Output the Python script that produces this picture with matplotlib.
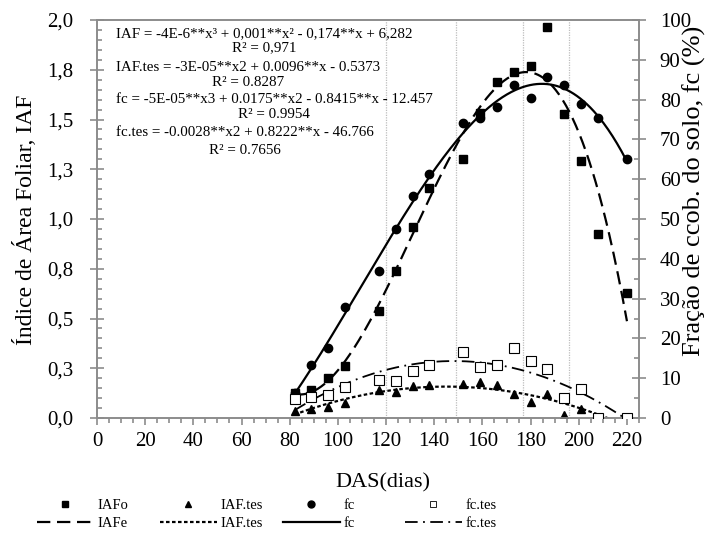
import numpy as np
import matplotlib
matplotlib.use("Agg")
import matplotlib.pyplot as plt
from matplotlib.lines import Line2D
from matplotlib.ticker import MultipleLocator, FixedLocator

plt.rcParams['font.family'] = ['Liberation Serif', 'DejaVu Serif']

# observation days (DAS)
das = [82, 89, 96, 103, 117, 124, 131, 138, 152, 159, 166, 173, 180, 187, 194, 201, 208, 220]

# leaf area index, observed (left axis)
iaf_obs = [0.125, 0.14, 0.20, 0.26, 0.54, 0.74, 0.96, 1.155, 1.30, 1.535, 1.69, 1.74,
           1.77, 1.965, 1.53, 1.29, 0.925, 0.63]
# leaf area index, weeds (left axis)
iaf_tes = [0.035, 0.044, 0.053, 0.074, 0.141, 0.132, 0.161, 0.166, 0.169, 0.179, 0.166,
           0.119, 0.080, 0.121, 0.015, 0.044, 0.0, 0.0]
# soil cover fraction (right axis, %)
fc = [6.3, 13.3, 17.5, 28.0, 37.0, 47.6, 55.7, 61.3, 74.0, 75.3, 78.2, 83.7, 80.5,
      85.7, 83.6, 79.0, 75.3, 65.1]
# soil cover fraction, weeds (right axis, %)
fc_tes = [4.7, 5.4, 5.8, 7.9, 9.6, 9.3, 11.9, 13.2, 16.6, 12.9, 13.3, 17.7, 14.4,
          12.3, 5.0, 7.2, 0.0, 0.0]

# phase boundaries (dotted vertical lines)
phase_days = [120, 149, 177, 196]

left_ticks = [0, 0.25, 0.5, 0.75, 1.0, 1.25, 1.5, 1.75, 2.0]
left_labels = ["0,0", "0,3", "0,5", "0,8", "1,0", "1,3", "1,5", "1,8", "2,0"]

equations = [
    ("IAF = -4E-6**x³ + 0,001**x² - 0,174**x + 6,282", "R² = 0,971"),
    ("IAF.tes = -3E-05**x2 + 0.0096**x - 0.5373", "R² = 0.8287"),
    ("fc = -5E-05**x3 + 0.0175**x2 - 0.8415**x - 12.457", "R² = 0.9954"),
    ("fc.tes = -0.0028**x2 + 0.8222**x - 46.766", "R² = 0.7656"),
]

# ---------------------------------------------------------------------------
fig = plt.figure(figsize=(7.1, 5.37), dpi=100)
ax = fig.add_axes([97 / 710, 1 - 418 / 537, 542 / 710, 398 / 537])
ax2 = ax.twinx()

gray = "#8c8c8c"

# trend lines (least squares fits on the observed points)
x = np.array(das, dtype=float)
xs = np.linspace(x.min(), x.max(), 300)


def trend(y, deg):
    p = np.polynomial.Polynomial.fit(x, np.array(y, dtype=float), deg)
    return p(xs)


for d in phase_days:
    ax.axvline(d, color="#bdbdbd", lw=0.9, ls=(0, (1, 1)), zorder=0)

ax.plot(xs, trend(iaf_obs, 3), color="k", lw=1.6, dashes=(6, 3), zorder=2)
ax.plot(xs, trend(iaf_tes, 2), color="k", lw=1.6, dashes=(1.6, 1.1), zorder=2)
ax2.plot(xs, trend(fc, 3), color="k", lw=1.6, zorder=2)
ax2.plot(xs, trend(fc_tes, 2), color="k", lw=1.3, dashes=(7, 3, 1, 3), zorder=2)

ax.plot(das, iaf_obs, "s", color="k", ms=6, zorder=3)
ax.plot(das, iaf_tes, "^", color="k", ms=6, zorder=3)
ax2.plot(das, fc, "o", color="k", ms=6, zorder=3)
ax2.plot(das, fc_tes, "s", mfc="white", mec="k", mew=0.8, ms=6.5, zorder=3)

# axes ----------------------------------------------------------------------
ax.set_xlim(0, 225)
ax.set_ylim(0, 2.0)
ax2.set_ylim(0, 100)

ax.xaxis.set_minor_locator(MultipleLocator(5))
ax.set_xticks(range(0, 221, 20))
ax.yaxis.set_major_locator(FixedLocator(left_ticks))
ax.set_yticklabels(left_labels)
ax.yaxis.set_minor_locator(MultipleLocator(0.05))
ax2.yaxis.set_major_locator(MultipleLocator(10))
ax2.yaxis.set_minor_locator(MultipleLocator(5))

for a in (ax, ax2):
    for s in a.spines.values():
        s.set_color(gray)
        s.set_linewidth(1.2)

ax.tick_params(axis="x", which="major", direction="out", length=5, width=1.2,
               color=gray, labelsize=15, pad=5)
ax.tick_params(axis="x", which="minor", direction="out", length=3.5, width=1.2, color=gray)
ax.tick_params(axis="y", which="major", direction="inout", length=10, width=1.2,
               color=gray, labelsize=15, pad=12)
ax.tick_params(axis="y", which="minor", direction="in", length=3.5, width=1.2, color=gray)
ax2.tick_params(axis="y", which="major", direction="inout", length=10, width=1.2,
                color=gray, labelsize=15, pad=10)
ax2.tick_params(axis="y", which="minor", direction="in", length=3.5, width=1.2, color=gray)

ax.set_xlabel("DAS(dias)", fontsize=16)
ax.xaxis.set_label_coords(0.528, -0.14)
ax.set_ylabel("Índice de Área Foliar, IAF", fontsize=17)
ax.yaxis.set_label_coords(-0.111, 0.497)
ax2.set_ylabel("Fração de ccob. do solo, fc (%)", fontsize=19)
ax2.yaxis.set_label_coords(1.08, 0.57)

# equations -----------------------------------------------------------------
eq_y = [35, 69, 101, 134]
gaps = [1.15, 1.15, 1.15, 1.45]
for (eq, r2), yp, ls in zip(equations, eq_y, gaps):
    ax.text((116 - 97) / 542, (418 - yp + 8) / 398, eq + "\n" + r2,
            transform=ax.transAxes, ha="left", va="top", multialignment="center",
            fontsize=10.8, linespacing=ls)

# legend --------------------------------------------------------------------
col_x = [37, 160, 283, 405]
entries = [
    (Line2D([], [], ls="none", marker="s", color="k", ms=5), "IAFo",
     Line2D([], [], color="k", lw=1.6, dashes=(6, 3)), "IAFe"),
    (Line2D([], [], ls="none", marker="^", color="k", ms=5), "IAF.tes",
     Line2D([], [], color="k", lw=1.6, dashes=(1.6, 1.1)), "IAF.tes"),
    (Line2D([], [], ls="none", marker="o", color="k", ms=5), "fc",
     Line2D([], [], color="k", lw=1.6), "fc"),
    (Line2D([], [], ls="none", marker="s", mfc="white", mec="k", mew=0.6, ms=5), "fc.tes",
     Line2D([], [], color="k", lw=1.3, dashes=(7, 3, 1, 3)), "fc.tes"),
]
for cx, (h1, l1, h2, l2) in zip(col_x, entries):
    fig.legend([h1, h2], [l1, l2], loc="upper left",
               bbox_to_anchor=(cx / 710, 1 - 499 / 537), frameon=False,
               fontsize=10.5, handlelength=3.9, handletextpad=0.25,
               labelspacing=0.3, borderpad=0, borderaxespad=0)

fig.savefig("out.png", dpi=100)
